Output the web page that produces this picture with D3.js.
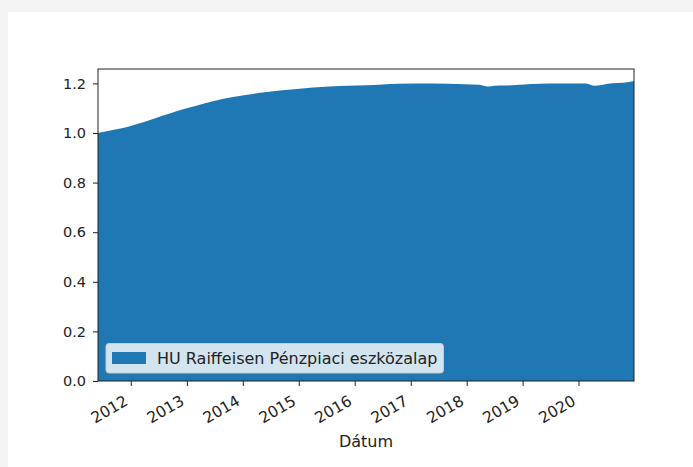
<!DOCTYPE html>
<html>
<head>
<meta charset="utf-8">
<script src="https://cdn.jsdelivr.net/npm/d3@7"></script>
<style>
  body { margin: 0; background: #f4f4f4; }
  #card { position: absolute; left: 8px; top: 12px; right: 0; bottom: 0; background: #fff; }
  svg { position: absolute; left: 0; top: 0; }
  text { font-family: "DejaVu Sans", sans-serif; fill: #222; }
</style>
</head>
<body>
<div id="card"></div>
<div id="chart-area"></div>
<script>
/*
*    main.js
*/

// Data
var dates = ["2011-06-01", "2011-09-05", "2011-12-15", "2012-04-01", "2012-07-20", "2012-11-05",
  "2013-02-25", "2013-06-20", "2013-10-20", "2014-05-10", "2014-12-20", "2015-07-20",
  "2016-03-20", "2016-10-10", "2017-05-20", "2017-12-20", "2018-03-25", "2018-05-20",
  "2018-07-01", "2018-09-05", "2019-03-05", "2019-10-10", "2020-02-20", "2020-04-15",
  "2020-05-20", "2020-07-01", "2020-11-25", "2020-12-28"];
var values = [1.000, 1.012, 1.025, 1.045, 1.068, 1.090,
  1.109, 1.128, 1.144, 1.163, 1.177, 1.187,
  1.192, 1.199, 1.200, 1.197, 1.194, 1.187,
  1.190, 1.191, 1.198, 1.200, 1.200, 1.190,
  1.192, 1.198, 1.206, 1.210];
var yTicks = [0.0, 0.2, 0.4, 0.6, 0.8, 1.0, 1.2];
var xTickYears = [2012, 2013, 2014, 2015, 2016, 2017, 2018, 2019, 2020];
var seriesName = "HU Raiffeisen Pénzpiaci eszközalap";
var xLabel = "Dátum";

var margin = {top: 69, right: 59, bottom: 86, left: 98};
var W = 693, H = 467;
var width = W - margin.left - margin.right;
var height = H - margin.top - margin.bottom;

var parse = d3.timeParse("%Y-%m-%d");
var data = dates.map((d, i) => { return {date: parse(d), value: values[i]}; });

var svg = d3.select("#chart-area").append("svg").attr("width", W).attr("height", H);
var g = svg.append("g").attr("transform", "translate(" + margin.left + ", " + margin.top + ")");

// Scales
var x = d3.scaleTime().domain([parse("2011-06-01"), parse("2020-12-28")]).range([0, width]);
var y = d3.scaleLinear().domain([0, 1.258]).range([height, 0]);

// Area
var area = d3.area().x((d) => { return x(d.date); }).y0(y(0)).y1((d) => { return y(d.value); })
  .curve(d3.curveMonotoneX);
g.append("path").datum(data).attr("d", area).attr("fill", "#1f77b4");

// Axis
var xAxisCall = d3.axisBottom(x).tickValues(xTickYears.map((yr) => { return new Date(yr, 0, 1); }))
  .tickFormat(d3.timeFormat("%Y")).tickSizeOuter(0).tickSize(5);
var xAxisGroup = g.append("g").attr("class", "x axis").attr("transform", "translate(0, " + height + ")").call(xAxisCall);
xAxisGroup.select(".domain").remove();
xAxisGroup.selectAll("line").attr("stroke", "#222");
xAxisGroup.selectAll("text").attr("font-size", "15.5px").attr("text-anchor", "end")
  .attr("x", 0).attr("y", 0).attr("dy", "0.75em")
  .attr("transform", "translate(-8, 13) rotate(-30)");

var yAxisCall = d3.axisLeft(y).tickValues(yTicks).tickFormat(d3.format(".1f")).tickSizeOuter(0).tickSize(5).tickPadding(7);
var yAxisGroup = g.append("g").attr("class", "y axis").call(yAxisCall);
yAxisGroup.select(".domain").remove();
yAxisGroup.selectAll("line").attr("stroke", "#222");
yAxisGroup.selectAll("text").attr("font-size", "14.5px");

// Frame
g.append("rect").attr("width", width).attr("height", height).attr("fill", "none").attr("stroke", "#222").attr("stroke-width", 1);

// Labels
g.append("text").attr("x", width / 2).attr("y", height + 66).attr("font-size", "16px")
  .attr("text-anchor", "middle").text(xLabel);

// Legend
var leg = g.append("g").attr("transform", "translate(8, " + (height - 37.5) + ")");
var legBox = leg.append("rect").attr("height", 29.5).attr("rx", 3).attr("fill", "rgb(210,228,240)")
  .attr("stroke", "#ccc").attr("stroke-width", 1);
leg.append("rect").attr("x", 6).attr("y", 8.5).attr("width", 34).attr("height", 12).attr("fill", "#1f77b4");
var legText = leg.append("text").attr("x", 51).attr("y", 20).attr("font-size", "16px").text(seriesName);
legBox.attr("width", 51 + legText.node().getComputedTextLength() + 6);

</script>
</body>
</html>
